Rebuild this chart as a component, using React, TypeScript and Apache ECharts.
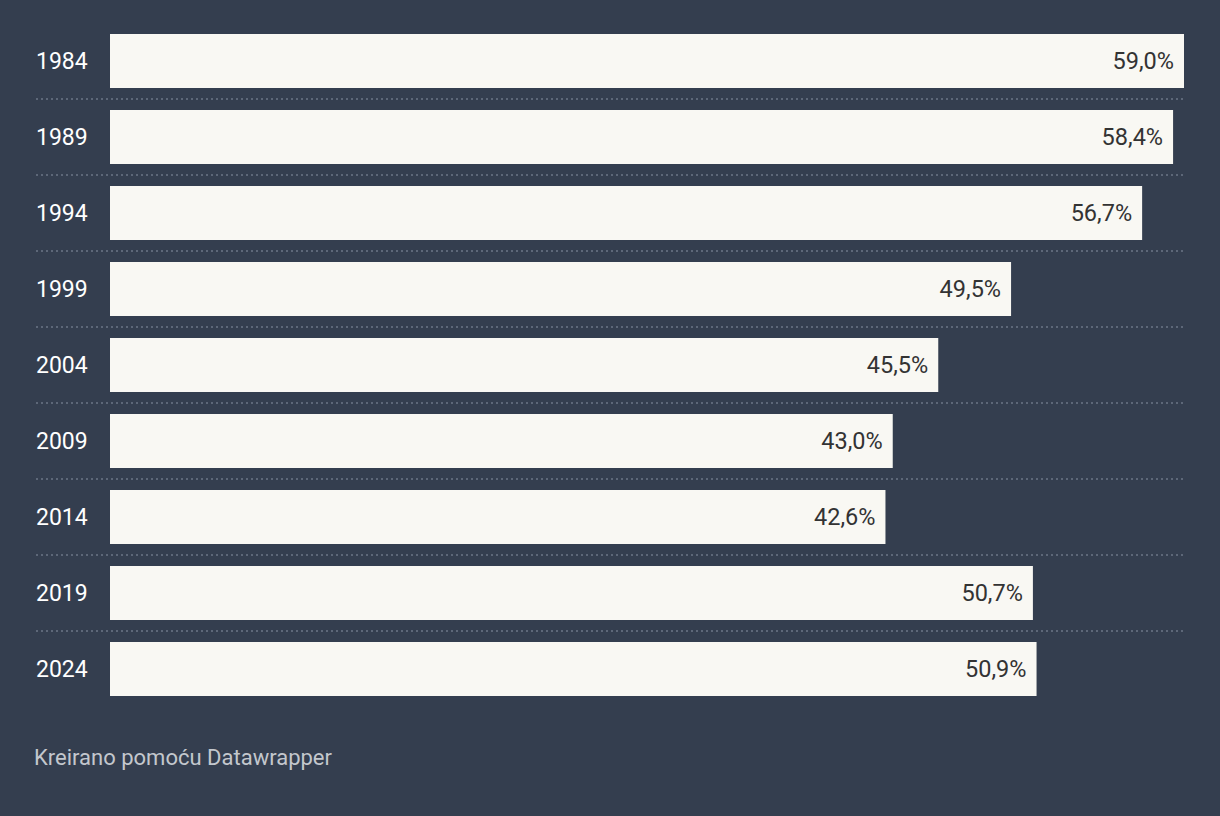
import React, { useEffect, useRef } from "react";
import * as echarts from "echarts";

const years = ["1984", "1989", "1994", "1999", "2004", "2009", "2014", "2019", "2024"];
const values = [59.0, 58.4, 56.7, 49.5, 45.5, 43.0, 42.6, 50.7, 50.9];
const footer = "Kreirano pomoću Datawrapper";

export default function App() {
  const ref = useRef<HTMLDivElement>(null);
  useEffect(() => {
    document.body.style.margin = "0";
    const chart = echarts.init(ref.current!, null, { renderer: "svg" });
    chart.setOption({
      animation: false,
      backgroundColor: "#343e4f",
      textStyle: { fontFamily: "Roboto" },
      grid: [
        { left: 110, right: 36, top: 23, height: 684 },
        { left: 36, right: 36, top: 23, height: 684 },
      ],
      xAxis: [
        { type: "value", gridIndex: 0, min: 0, max: 59, show: false },
        { type: "value", gridIndex: 1, min: 0, max: 1, show: false },
      ],
      yAxis: [
        {
          type: "category",
          gridIndex: 0,
          data: years,
          inverse: true,
          axisLine: { show: false },
          axisTick: { show: false },
          splitLine: { show: false },
          axisLabel: {
            margin: 74,
            align: "left",
            color: "#ffffff",
            fontSize: 23,
            fontFamily: "Roboto",
          },
        },
        {
          type: "value",
          gridIndex: 1,
          min: 0,
          max: 9,
          interval: 1,
          axisLine: { show: false },
          axisTick: { show: false },
          axisLabel: { show: false },
          splitLine: {
            show: true,
            showMinLine: false,
            showMaxLine: false,
            lineStyle: { color: "#5d6778", width: 2, type: [2, 3] },
          },
        },
      ],
      series: [
        {
          type: "bar",
          xAxisIndex: 0,
          yAxisIndex: 0,
          data: values,
          barWidth: 54,
          itemStyle: { color: "#f9f8f3" },
          label: {
            show: true,
            position: "insideRight",
            distance: 10,
            color: "#333333",
            fontSize: 23.5,
            fontFamily: "Roboto",
            formatter: (p: any) => p.value.toFixed(1).replace(".", ",") + "%",
          },
          z: 3,
        },
      ],
      graphic: [
        {
          type: "text",
          left: 34,
          top: 746,
          style: {
            text: footer,
            fill: "#c3c7cd",
            fontSize: 22,
            fontFamily: "Roboto",
          },
        },
      ],
    });
    return () => chart.dispose();
  }, []);
  return (
    <div
      ref={ref}
      style={{ width: 1220, height: 816, position: "fixed", left: 0, top: 0 }}
    />
  );
}
